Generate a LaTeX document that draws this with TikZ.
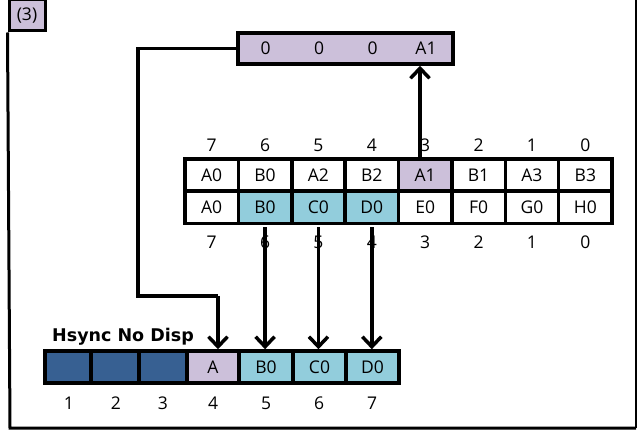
\documentclass[tikz,border=0pt]{standalone}
\usepackage{fontspec}
\setmainfont{Open Sans}
\newfontfamily\boldlab{DejaVu Sans}
\usetikzlibrary{arrows.meta}
\definecolor{lav}{HTML}{CCC0DA}
\definecolor{cyn}{HTML}{92CDDC}
\definecolor{dblue}{HTML}{376092}
\begin{document}
\begin{tikzpicture}[x=1pt,y=-1pt,
  cell/.style={draw, line width=3.5pt, inner sep=0pt, minimum height=32pt, font=\fontsize{17.5}{17.5}\selectfont},
  tcell/.style={cell, minimum width=53.4pt},
  num/.style={inner sep=0pt, font=\fontsize{17.5}{17.5}\selectfont},
  arr/.style={line width=3.5pt, -{Straight Barb[length=10pt,width=19pt,line width=3.5pt]}},
  link/.style={line width=3.5pt}]
\useasboundingbox (0,0) rectangle (637,430);
% label and frame
\node[draw, line width=3pt, fill=lav, minimum width=36pt, minimum height=31pt, inner sep=0pt,
      font=\fontsize{17.5}{17.5}\selectfont] (lbl) at (27,15.5) {(3)};
\draw[line width=3pt] (lbl.south west) -- (10,428) -- (636,428);
\draw[line width=1.5pt] (636,428) -- (636,0);
% top register
\node[draw, line width=3.5pt, fill=lav, minimum width=215pt, minimum height=31pt, inner sep=0pt] (reg) at (345.5,48.5) {};
\foreach \t [count=\i from 0] in {0,0,0,A1}
  \node[num] (r\i) at (265.5+53.5*\i,48.5) {\t};
% main table
\foreach \t/\f [count=\i from 0] in {A0/white,B0/white,A2/white,B2/white,A1/lav,B1/white,A3/white,B3/white}
  \node[tcell, fill=\f] (u\i) at (211.7+53.375*\i,175) {\t};
\foreach \t/\f [count=\i from 0] in {A0/white,B0/cyn,C0/cyn,D0/cyn,E0/white,F0/white,G0/white,H0/white}
  \node[tcell, fill=\f] (l\i) at (211.7+53.375*\i,207.5) {\t};
\foreach \n [count=\i from 0] in {7,6,5,4,3,2,1,0}{
  \node[num] (tn\i) at (211.7+53.375*\i,145) {\n};
  \node[num] (bn\i) at (211.7+53.375*\i,242) {\n};}
% bottom register
\node[cell, fill=dblue, minimum width=46pt] (b0) at (68,367) {};
\node[cell, fill=dblue, minimum width=48pt] (b1) at (115,367) {};
\node[cell, fill=dblue, minimum width=48pt] (b2) at (163,367) {};
\node[cell, fill=lav, minimum width=52pt] (b3) at (213,367) {A};
\node[cell, fill=cyn, minimum width=54pt] (b4) at (266,367) {B0};
\node[cell, fill=cyn, minimum width=53pt] (b5) at (319.5,367) {C0};
\node[cell, fill=cyn, minimum width=53pt] (b6) at (372.5,367) {D0};
\foreach \n/\x [count=\i from 0] in {1/69,2/116,3/163,4/213,5/266,6/319,7/372}
  \node[num] (bb\i) at (\x,403) {\n};
\node[inner sep=0pt, font=\boldlab\bfseries\fontsize{17.5}{17.5}\selectfont, anchor=west] (hs) at (52,337) {Hsync No Disp};
% connectors
\coordinate (up) at (420,159);
\draw[arr] (up) -- (up |- reg.south);
\coordinate (c1) at (138,296);
\coordinate (c2) at (218,296);
\draw[link] (reg.west) -| (c1) -- (c2);
\draw[arr] (c2) -- (c2 |- b3.north);
\draw[arr] ([yshift=-2pt]l1.south) -- (l1.south |- b4.north);
\draw[arr] ([yshift=-2pt]l2.south) -- (l2.south |- b5.north);
\draw[arr] ([yshift=-2pt]l3.south) -- (l3.south |- b6.north);
\end{tikzpicture}
\end{document}
